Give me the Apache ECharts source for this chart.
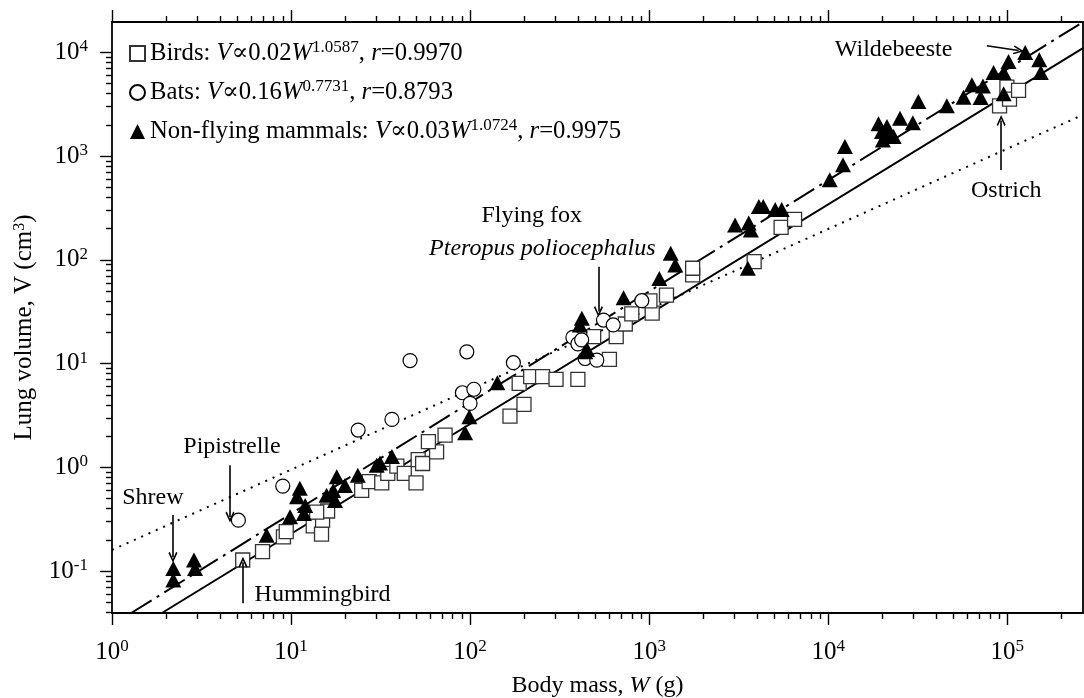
<!DOCTYPE html>
<html><head><meta charset="utf-8">
<script src="https://cdn.jsdelivr.net/npm/echarts@6/dist/echarts.min.js"></script>
<style>html,body{margin:0;padding:0;background:#fff}#c{width:1084px;height:698px}</style>
</head><body><div id="c"></div>
<script>
// ---------- data ----------
const seriesNames = ['Birds', 'Bats', 'Non-flying mammals'];
const fitCoef = ['0.02', '0.16', '0.03'];
const fitExp = ['1.0587', '0.7731', '1.0724'];
const fitR = ['0.9970', '0.8793', '0.9975'];

// body mass W (g), lung volume V (cm3)
const birds = [
  [5.37,0.128],[6.93,0.154],[9.07,0.214],[9.4,0.24],[13.3,0.273],[14.8,0.227],[15.0,0.31],[16.0,0.38],
  [13.9,0.37],[24.8,0.60],[27.3,0.73],[32.1,0.71],[34.7,0.875],[39.0,1.03],[42.9,0.875],[49.9,0.71],
  [51.3,1.19],[54.3,1.09],[65.0,1.41],[58.5,1.77],[72.5,2.05],[167,3.12],[200,4.05],[188,6.45],
  [218,7.48],[254,7.48],[302,7.06],[400,7.06],[490,18.2],[600,11.0],[655,18.2],[736,24.1],[800,30.1],
  [1040,30.6],[1010,40.2],[1250,45.8],[1750,71.5],[1750,83],[3860,96],[5460,206],[6490,246],
  [90600,3050],[99600,4620],[103000,3540],[115700,4290]
];
const bats = [
  [5.08,0.31],[8.99,0.66],[23.7,2.29],[36.6,2.90],[46.2,10.7],[95.9,13.0],[174.5,10.2],[90.6,5.24],
  [105,5.66],[100,4.14],[375,17.9],[400,15.5],[420,16.9],[439,11.2],[510,10.8],[556,26.3],[630,23.6],[910,40.4]
];
const mammals = [
  [2.2,0.106],[2.2,0.082],[2.87,0.128],[2.91,0.106],[7.31,0.222],[9.87,0.334],[11.2,0.63],[10.8,0.52],
  [12.0,0.43],[11.8,0.36],[15.8,0.54],[18.0,0.81],[17.2,0.60],[17.6,0.48],[20.0,0.67],[23.6,0.84],
  [30.1,1.05],[31.4,1.1],[36.6,1.27],[93.8,2.16],[99,3.08],[142,6.55],[421,27.4],[410,23.6],[450,13.7],
  [440,13.0],[720,43.2],[1140,66],[1320,116],[1400,89],[3020,217],[3600,226],[3700,194],[3560,83],
  [4100,326],[4340,326],[5060,305],[5500,305],[10200,590],[12100,823],[12400,1236],[19100,2045],
  [19950,1722],[21300,1923],[22000,1600],[23200,1541],[20200,1432],[25200,2320],[29700,2100],
  [31900,3360],[46000,3050],[57000,3700],[63500,4860],[73200,4740],[71000,3660],[83900,6400],
  [95500,6400],[101700,8160],[95500,3980],[126000,9950],[151000,8470],[154000,6400]
];
// regression lines, end points
const birdsFitLine = [[1.9,0.0395],[2.65e5,11000]];
const batsFitLine = [[1,0.16],[2.65e5,2500]];
const mammalsFitLine = [[1.28,0.0395],[2.65e5,19600]];

const xMajorTicks = [1,10,100,1000,10000,100000];
const yMajorTicks = [0.1,1,10,100,1000,10000];
const minorMultipliers = [2,3,4,5,6,7,8,9];
const xMinorTicks = [], yMinorTicks = [];
[1,10,100,1000,10000,100000].forEach(d => minorMultipliers.forEach(m => xMinorTicks.push(m*d)));
[0.01,0.1,1,10,100,1000,10000].forEach(d => minorMultipliers.forEach(m => yMinorTicks.push(+(m*d).toPrecision(3))));

const annotationLabels = [
  {name:'Shrew', value:[1.69,0.506]},
  {name:'Pipistrelle', value:[4.68,1.57]},
  {name:'Hummingbird', value:[15.0,0.0587]},
  {name:'Flying fox', value:[221,265]},
  {name:'Pteropus poliocephalus', value:[253,127], italic:true},
  {name:'Wildebeeste', value:[23200,10600]},
  {name:'Ostrich', value:[98800,465]}
];
const annotationArrows = [
  [[2.19,0.347],[2.19,0.136]],
  [[4.56,1.05],[4.56,0.332]],
  [[5.39,0.049],[5.39,0.122]],
  [[521,86],[521,31.7]],
  [[76900,11560],[115700,10420]],
  [[92500,736],[92500,2200]]
];

// ---------- chart ----------
const FONT = "'Liberation Serif','DejaVu Serif',serif";
const chart = echarts.init(document.getElementById('c'), null, {renderer:'canvas'});
const X_MIN = 1, X_MAX = 2.65e5, Y_MIN = 0.0395, Y_MAX = 1.96e4;
const supRich = {
  b: {fontFamily: FONT, fontSize: 25, lineHeight: 28, color: '#000'},
  s: {fontFamily: FONT, fontSize: 17, lineHeight: 17, verticalAlign: 'top', color: '#000'}
};
function expLabel(v) { return '{b|10}{s|' + Math.round(Math.log10(v)) + '}'; }
const axisLineStyle = {color: '#000', width: 1.8};

function xAxisDef(pos, ticks, len, withLabels, withLine) {
  return {
    type: 'log', logBase: 10, min: X_MIN, max: X_MAX, position: pos, gridIndex: 0,
    axisLine: {show: withLine, onZero: false, lineStyle: axisLineStyle},
    axisTick: {show: true, inside: false, length: len, customValues: ticks, lineStyle: {color:'#000', width: 1.4}},
    axisLabel: withLabels ? {show: true, customValues: xMajorTicks, formatter: expLabel, margin: 25, rich: supRich} : {show: false},
    splitLine: {show: false}, minorTick: {show: false}
  };
}
function yAxisDef(pos, ticks, len, withLabels, withLine) {
  return {
    type: 'log', logBase: 10, min: Y_MIN, max: Y_MAX, position: pos, gridIndex: 0,
    axisLine: {show: withLine, onZero: false, lineStyle: axisLineStyle},
    axisTick: ticks ? {show: true, inside: false, length: len, customValues: ticks, lineStyle: {color:'#000', width: 1.4}} : {show: false},
    axisLabel: withLabels ? {show: true, customValues: yMajorTicks, formatter: expLabel, margin: 24, rich: supRich} : {show: false},
    splitLine: {show: false}, minorTick: {show: false}
  };
}

const xAxes = [
  xAxisDef('bottom', xMajorTicks, 12, true, true),
  xAxisDef('bottom', xMinorTicks, 6, false, false),
  xAxisDef('top', xMajorTicks, 12, false, true),
  xAxisDef('top', xMinorTicks, 6, false, false)
];
xAxes[0].name = 'Body mass, {i|W} (g)';
xAxes[0].nameLocation = 'middle';
xAxes[0].nameGap = 61;
xAxes[0].nameTextStyle = {fontFamily: FONT, fontSize: 24, color: '#000',
  rich: {i: {fontFamily: FONT, fontSize: 24, fontStyle: 'italic', color: '#000'}}};

const yAxes = [
  yAxisDef('left', yMajorTicks, 12, true, true),
  yAxisDef('left', yMinorTicks, 6, false, false),
  yAxisDef('right', null, 0, false, true)
];
yAxes[0].name = 'Lung volume, V (cm{s|3})';
yAxes[0].nameLocation = 'middle';
yAxes[0].nameGap = 75;
yAxes[0].nameTextStyle = {fontFamily: FONT, fontSize: 25, color: '#000', padding: [0, 20, 0, 0],
  rich: {s: {fontFamily: FONT, fontSize: 16, verticalAlign: 'top', color: '#000'}}};

const arrowHead = 'path://M5,0 L10,9 L8.6,10 L5,3.4 L1.4,10 L0,9 Z';

function fitSeries(data, type) {
  return {
    type: 'line', data: data, xAxisIndex: 0, yAxisIndex: 0, showSymbol: false, symbol: 'none',
    silent: true, z: 1, clip: true, legendHoverLink: false,
    lineStyle: {color: '#000', width: 2, type: type, cap: 'butt'}
  };
}

const option = {
  animation: false,
  backgroundColor: '#fff',
  grid: {left: 112, right: 1, top: 22, bottom: 85, containLabel: false, outerBoundsMode: 'none'},
  xAxis: xAxes,
  yAxis: yAxes,
  legend: {
    orient: 'vertical', left: 124, top: 34, itemGap: 10, itemWidth: 15, itemHeight: 15,
    data: seriesNames, selectedMode: false,
    formatter: function (name) {
      const i = seriesNames.indexOf(name);
      return name + ': {i|V}∝' + fitCoef[i] + '{i|W}{s|' + fitExp[i] + '}, {i|r}=' + fitR[i];
    },
    textStyle: {fontFamily: FONT, fontSize: 24.7, color: '#000', lineHeight: 29,
      rich: {
        i: {fontFamily: FONT, fontSize: 24.7, fontStyle: 'italic', color: '#000', lineHeight: 29},
        s: {fontFamily: FONT, fontSize: 17, lineHeight: 17, verticalAlign: 'top', color: '#000'}
      }}
  },
  series: [
    fitSeries(birdsFitLine, 'solid'),
    fitSeries(batsFitLine, [2, 6]),
    fitSeries(mammalsFitLine, [24, 6, 3, 6]),
    {
      name: seriesNames[0], type: 'scatter', data: birds, symbol: 'rect', symbolSize: 14, z: 3,
      itemStyle: {color: '#fff', borderColor: '#333', borderWidth: 1.3, opacity: 1}
    },
    {
      name: seriesNames[1], type: 'scatter', data: bats, symbol: 'circle', symbolSize: 14, z: 4,
      itemStyle: {color: '#fff', borderColor: '#000', borderWidth: 1.2, opacity: 1}
    },
    {
      name: seriesNames[2], type: 'scatter', data: mammals, symbol: 'triangle', symbolSize: [16, 15], z: 5,
      itemStyle: {color: '#000', opacity: 1}
    },
    {
      type: 'line', data: [], silent: true, z: 6, showSymbol: false,
      markLine: {
        silent: true, symbol: ['none', arrowHead], symbolSize: [9, 11], precision: 6,
        label: {show: false},
        lineStyle: {color: '#000', width: 1.6, type: 'solid', opacity: 1},
        data: annotationArrows.map(a => [{coord: a[0]}, {coord: a[1]}])
      }
    }
  ]
};
chart.setOption(option);

// annotation texts, placed through the chart's own coordinate conversion
const graphics = annotationLabels.map(a => {
  const p = chart.convertToPixel({xAxisIndex: 0, yAxisIndex: 0}, a.value);
  return {
    type: 'text', x: p[0], y: p[1], z: 100, silent: true,
    style: {text: a.name, fill: '#000', fontFamily: FONT, fontSize: 24,
      fontStyle: a.italic ? 'italic' : 'normal', align: 'center', verticalAlign: 'middle'}
  };
});
chart.setOption({graphic: graphics});
</script>
</body></html>
